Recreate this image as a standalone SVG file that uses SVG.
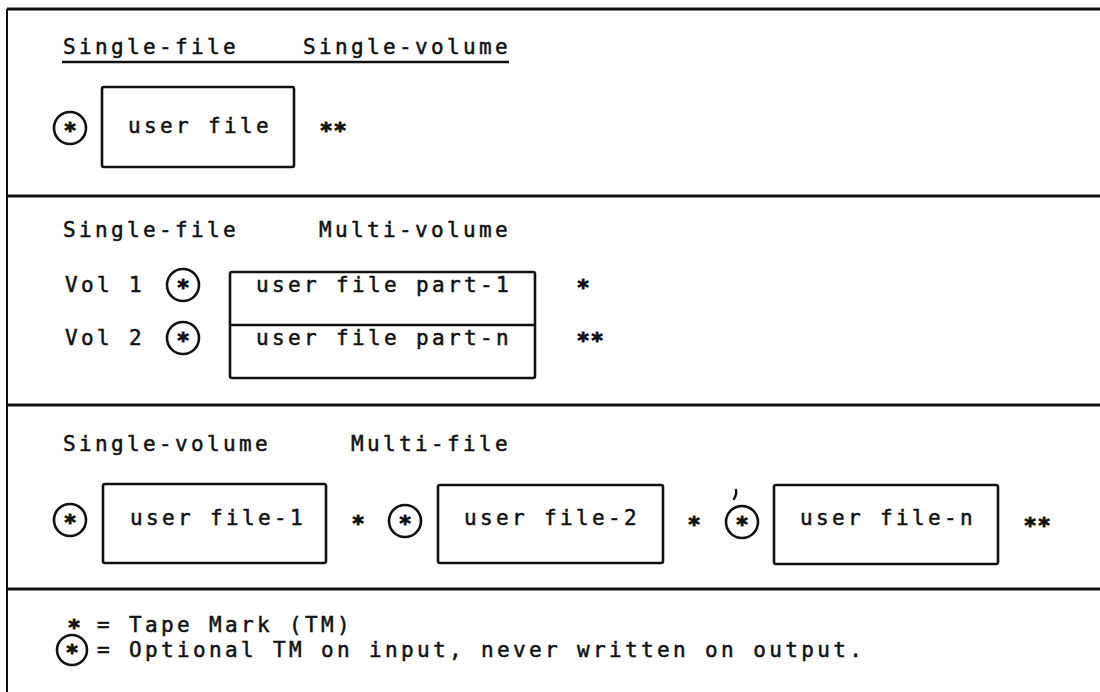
<svg xmlns="http://www.w3.org/2000/svg" width="1100" height="692" viewBox="0 0 1100 692">
  <style>
    .t { font-family: "DejaVu Sans Mono", "Liberation Mono", monospace; font-size: 21px; letter-spacing: 3.36px; fill: #111; stroke: #111; stroke-width: 0.5px; }
    .star { font-family: "DejaVu Sans Mono", "Liberation Mono", monospace; font-size: 22px; font-weight: bold; fill: #111; stroke: #111; stroke-width: 0.9px; stroke-linejoin: round; text-anchor: middle; }
    .box { fill: none; stroke: #111; stroke-width: 2.6; }
    .ring { fill: none; stroke: #111; stroke-width: 2.6; }
    .rule { stroke: #111; stroke-width: 3; }
    .edge { stroke: #111; stroke-width: 2; }
    .under { stroke: #111; stroke-width: 2.6; }
  </style>

  <!-- outer frame and section dividers -->
  <g id="frame">
    <line class="rule" x1="7" y1="9" x2="1100" y2="9"/>
    <line class="edge" x1="7" y1="9" x2="7" y2="692"/>
    <line class="rule" x1="7" y1="196" x2="1100" y2="196"/>
    <line class="rule" x1="7" y1="405" x2="1100" y2="405"/>
    <line class="rule" x1="7" y1="589" x2="1100" y2="589"/>
  </g>

  <!-- section 1: single-file, single-volume -->
  <g id="sec1-title">
    <text class="t" x="63" y="54">Single-file</text>
    <text class="t" x="303" y="54">Single-volume</text>
    <line class="under" x1="62" y1="62" x2="509" y2="62"/>
  </g>
  <g id="sec1-optional-tm">
    <circle class="ring" cx="70" cy="128" r="16"/>
    <text class="star" x="70" y="138">*</text>
  </g>
  <g id="sec1-user-file">
    <rect class="box" x="102" y="87" width="192" height="80" rx="2"/>
    <text class="t" x="128" y="133">user file</text>
  </g>
  <g id="sec1-end-tm">
    <text class="star" x="326" y="138">*</text>
    <text class="star" x="340" y="138">*</text>
  </g>

  <!-- section 2: single-file, multi-volume -->
  <g id="sec2-title">
    <text class="t" x="63" y="237">Single-file</text>
    <text class="t" x="319" y="237">Multi-volume</text>
  </g>
  <g id="sec2-vol1">
    <text class="t" x="65" y="292">Vol 1</text>
    <circle class="ring" cx="183" cy="285" r="16"/>
    <text class="star" x="183" y="295">*</text>
  </g>
  <g id="sec2-vol2">
    <text class="t" x="65" y="345">Vol 2</text>
    <circle class="ring" cx="183" cy="338" r="16"/>
    <text class="star" x="183" y="348">*</text>
  </g>
  <g id="sec2-user-file">
    <rect class="box" x="230" y="272" width="305" height="106" rx="2"/>
    <line class="box" x1="230" y1="325" x2="535" y2="325"/>
    <text class="t" x="256" y="292">user file part-1</text>
    <text class="t" x="256" y="345">user file part-n</text>
  </g>
  <g id="sec2-tm">
    <text class="star" x="583" y="295">*</text>
    <text class="star" x="583" y="348">*</text>
    <text class="star" x="597" y="348">*</text>
  </g>

  <!-- section 3: single-volume, multi-file -->
  <g id="sec3-title">
    <text class="t" x="63" y="451">Single-volume</text>
    <text class="t" x="351" y="451">Multi-file</text>
  </g>
  <g id="sec3-optional-tm-1">
    <circle class="ring" cx="70" cy="520" r="16"/>
    <text class="star" x="70" y="530">*</text>
  </g>
  <g id="sec3-user-file-1">
    <rect class="box" x="103" y="484" width="223" height="79" rx="2"/>
    <text class="t" x="130" y="525">user file-1</text>
  </g>
  <g id="sec3-tm-1">
    <text class="star" x="358" y="531">*</text>
  </g>
  <g id="sec3-optional-tm-2">
    <circle class="ring" cx="405" cy="521" r="16"/>
    <text class="star" x="405" y="531">*</text>
  </g>
  <g id="sec3-user-file-2">
    <rect class="box" x="438" y="485" width="225" height="78" rx="2"/>
    <text class="t" x="464" y="525">user file-2</text>
  </g>
  <g id="sec3-tm-2">
    <text class="star" x="694" y="532">*</text>
  </g>
  <g id="sec3-optional-tm-n">
    <path d="M736 490 Q737 494 734 499" stroke="#111" stroke-width="2.4" stroke-linecap="round" fill="none"/>
    <circle class="ring" cx="742" cy="522" r="16"/>
    <text class="star" x="742" y="532">*</text>
  </g>
  <g id="sec3-user-file-n">
    <rect class="box" x="774" y="485" width="224" height="79" rx="2"/>
    <text class="t" x="800" y="525">user file-n</text>
  </g>
  <g id="sec3-end-tm">
    <text class="star" x="1030" y="533">*</text>
    <text class="star" x="1044" y="533">*</text>
  </g>

  <!-- legend -->
  <g id="legend-tm">
    <text class="star" x="74" y="635">*</text>
    <text class="t" x="97" y="632">= Tape Mark (TM)</text>
  </g>
  <g id="legend-optional-tm">
    <circle class="ring" cx="72" cy="650" r="15"/>
    <text class="star" x="72" y="660">*</text>
    <text class="t" x="97" y="657">= Optional TM on input, never written on output.</text>
  </g>
</svg>
